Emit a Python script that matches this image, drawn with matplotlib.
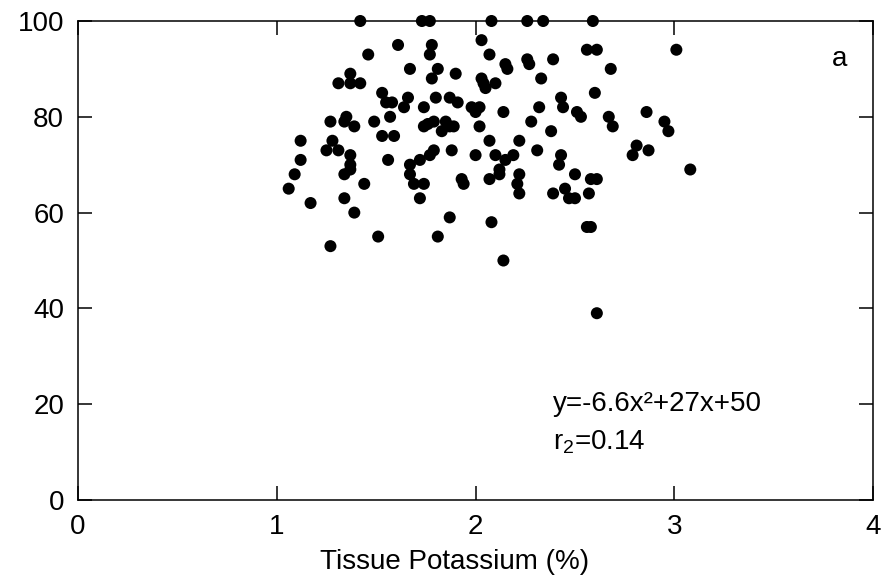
import matplotlib
matplotlib.use("Agg")
import matplotlib.pyplot as plt

plt.rcParams["font.family"] = ["Liberation Sans", "DejaVu Sans"]

# tissue potassium (%) and yield
potassium = [
    1.42, 1.73, 1.77, 1.61, 1.78, 1.77, 1.46, 1.67, 1.81, 1.90,
    1.78, 1.37, 1.31, 1.37, 1.42, 1.53, 1.55, 1.58, 1.66, 1.64,
    1.74, 1.80, 1.87, 1.91, 1.98, 1.27, 1.35, 1.34, 1.39, 1.49,
    1.57, 1.74, 1.76, 1.79, 1.85, 1.87, 1.89, 1.83, 1.12, 1.28,
    1.25, 1.31, 1.37, 1.53, 1.59, 1.56, 1.12, 1.37, 1.37, 1.34,
    1.09, 1.06, 1.17, 1.34, 1.44, 1.39, 1.27, 1.51, 1.81, 1.87,
    1.88, 1.79, 1.77, 1.72, 1.67, 1.67, 1.69, 1.74, 1.72, 1.93,
    1.94,
    2.08, 2.26, 2.34, 2.59, 2.03, 2.07, 2.15, 2.16, 2.26, 2.27,
    2.39, 2.56, 2.61, 3.01, 2.68, 2.03, 2.04, 2.05, 2.10, 2.33,
    2.60, 2.43, 2.44, 2.02, 2.00, 2.14, 2.32, 2.51, 2.53, 2.67,
    2.69, 2.86, 2.95, 2.97, 2.28, 2.38, 2.02, 2.07, 2.22, 2.00,
    2.10, 2.15, 2.19, 2.31, 2.43, 2.42, 2.81, 2.79, 2.87, 3.08,
    2.12, 2.12, 2.07, 2.22, 2.21, 2.22, 2.50, 2.58, 2.61, 2.45,
    2.47, 2.50, 2.39, 2.57, 2.08, 2.56, 2.58, 2.14, 2.61,
]
yield_pct = [
    100, 100, 100, 95, 95, 93, 93, 90, 90, 89,
    88, 89, 87, 87, 87, 85, 83, 83, 84, 82,
    82, 84, 84, 83, 82, 79, 80, 79, 78, 79,
    80, 78, 78.5, 79, 79, 78, 78, 77, 75, 75,
    73, 73, 72, 76, 76, 71, 71, 70, 69, 68,
    68, 65, 62, 63, 66, 60, 53, 55, 55, 59,
    73, 73, 72, 71, 70, 68, 66, 66, 63, 67,
    66,
    100, 100, 100, 100, 96, 93, 91, 90, 92, 91,
    92, 94, 94, 94, 90, 88, 87, 86, 87, 88,
    85, 84, 82, 82, 81, 81, 82, 81, 80, 80,
    78, 81, 79, 77, 79, 77, 78, 75, 75, 72,
    72, 71, 72, 73, 72, 70, 74, 72, 73, 69,
    69, 68, 67, 68, 66, 64, 68, 67, 67, 65,
    63, 63, 64, 64, 58, 57, 57, 50, 39,
]

x_ticks = [0, 1, 2, 3, 4]
y_ticks = [0, 20, 40, 60, 80, 100]

fig = plt.figure(figsize=(8.91, 5.77), dpi=100)
ax = fig.add_axes([0.0875, 0.1334, 0.8925, 0.8302])

ax.scatter(potassium, yield_pct, s=75, color="black", edgecolors="none", zorder=3, clip_on=False)

ax.set_xlim(0, 4)
ax.set_ylim(0, 100)
ax.set_xticks(x_ticks)
ax.set_yticks(y_ticks)
ax.tick_params(direction="in", length=10, width=1.1, labelsize=20, pad=10,
               top=True, right=True)
for sp in ax.spines.values():
    sp.set_linewidth(1.1)

ax.set_xlabel("Tissue Potassium (%)", fontsize=20)
ax.xaxis.set_label_coords(0.473, -0.103)

ax.text(2.39, 20, "y=-6.6x\u00b2+27x+50", fontsize=20, va="center", ha="left")
ax.text(2.39, 12, r"r$_{\mathregular{2}}$=0.14", fontsize=20, va="center", ha="left")
ax.text(3.79, 92, "a", fontsize=20, va="center", ha="left")

fig.savefig("out.png", dpi=100)
plt.close(fig)
